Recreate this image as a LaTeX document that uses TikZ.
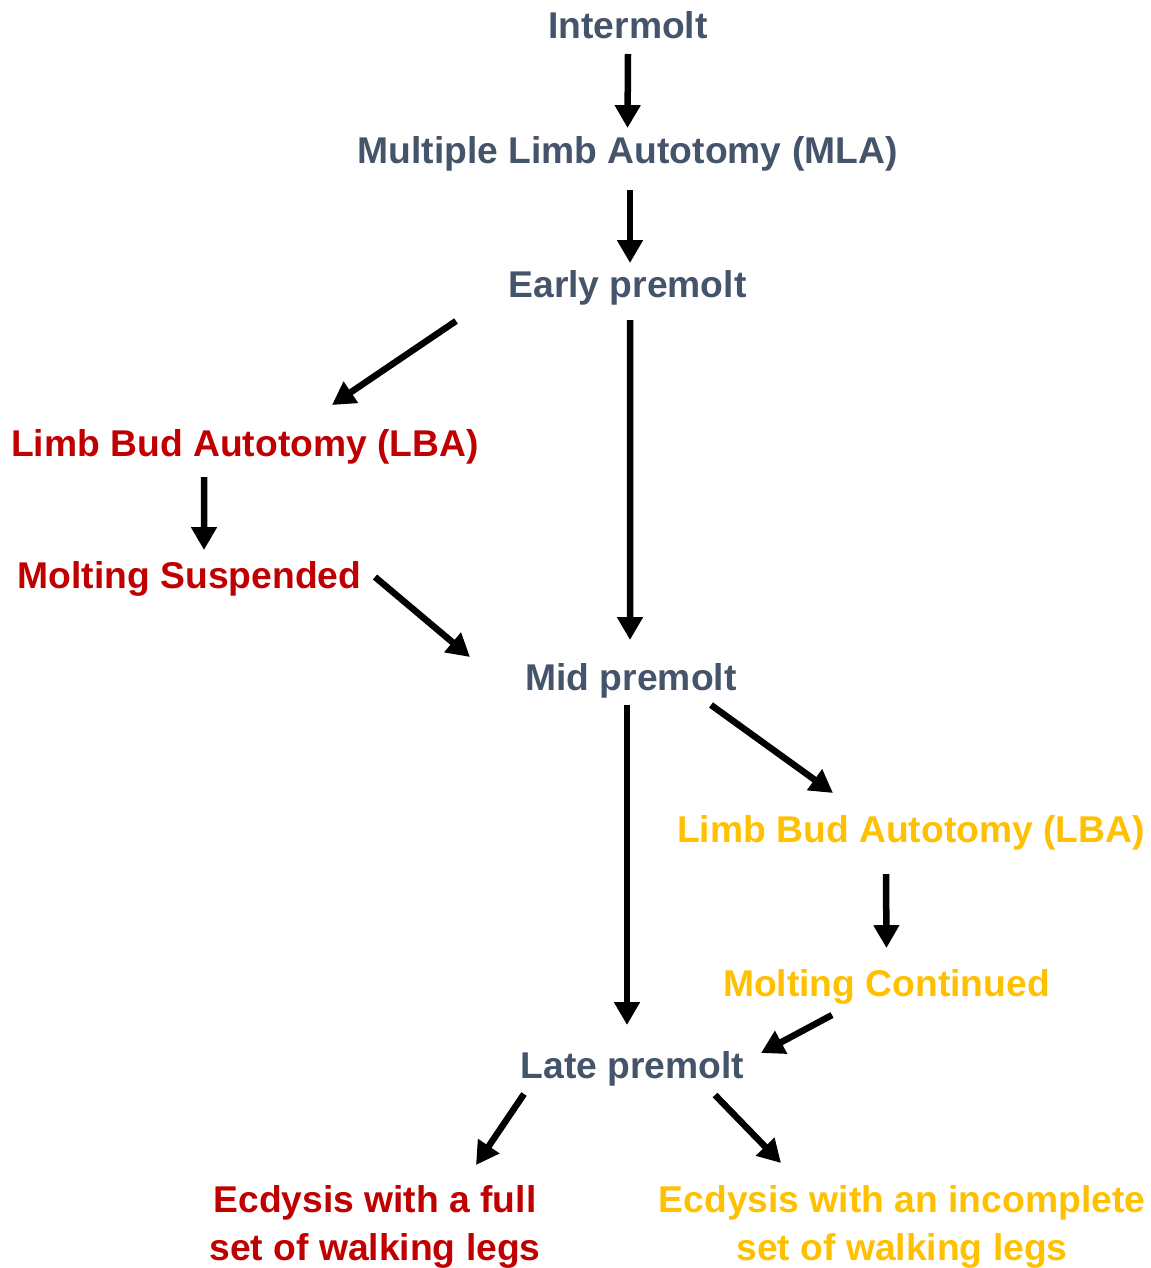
\documentclass[tikz,border=0pt]{standalone}
\usepackage{fontspec}
\setmainfont{Liberation Sans}
\usetikzlibrary{arrows.meta}
\definecolor{slate}{HTML}{44546A}
\definecolor{redtext}{HTML}{C00000}
\definecolor{goldtext}{HTML}{FFC000}

\begin{document}
\begin{tikzpicture}[x=0.02cm,y=-0.02cm,
    lbl/.style={inner sep=0pt,anchor=base,font=\fontsize{21.2}{27.3}\selectfont\bfseries},
    arr/.style={-{Triangle[length=13pt,width=14pt]},line width=3.7pt}]
  \useasboundingbox (0,0) rectangle (1151,1268);
  % stages
  \node[lbl,slate] (inter) at (628,38) {Intermolt};
  \node[lbl,slate] (mla) at (627.5,163) {Multiple Limb Autotomy (MLA)};
  \node[lbl,slate] (early) at (627.5,297) {Early premolt};
  \node[lbl,redtext] (lbar) at (245,456) {Limb Bud Autotomy (LBA)};
  \node[lbl,redtext] (susp) at (189.5,588) {Molting Suspended};
  \node[lbl,slate] (mid) at (631,690) {Mid premolt};
  \node[lbl,goldtext] (lbag) at (911,842) {Limb Bud Autotomy (LBA)};
  \node[lbl,goldtext] (cont) at (886.5,996) {Molting Continued};
  \node[lbl,slate] (late) at (632.5,1078) {Late premolt};
  \node[lbl,redtext,align=center,anchor=north] (full) at (375,1185)
    {Ecdysis with a full\\set of walking legs};
  \node[lbl,goldtext,align=center,anchor=north] (inc) at (902,1185)
    {Ecdysis with an incomplete\\set of walking legs};
  % arrows
  \draw[arr] ([shift={(0,16)}]inter.base) -- ([shift={(0,-35)}]mla.base);
  \draw[arr] ([shift={(2.5,27)}]mla.base) -- ([shift={(2.5,-34)}]early.base);
  \draw[arr] ([shift={(-171.5,24)}]early.base) -- ([shift={(87,-51)}]lbar.base);
  \draw[arr] ([shift={(2.5,23)}]early.base) -- ([shift={(-1,-50)}]mid.base);
  \draw[arr] ([shift={(-41,21)}]lbar.base) -- ([shift={(14.5,-38)}]susp.base);
  \draw[arr] ([shift={(185.5,-11)}]susp.base) -- ([shift={(-161,-33)}]mid.base);
  \draw[arr] ([shift={(80,15)}]mid.base) -- ([shift={(-78,-49)}]lbag.base);
  \draw[arr] ([shift={(-4,15)}]mid.base) -- ([shift={(-5.5,-53)}]late.base);
  \draw[arr] ([shift={(-25,32)}]lbag.base) -- ([shift={(0,-48)}]cont.base);
  \draw[arr] ([shift={(-54.5,19)}]cont.base) -- ([shift={(128.5,-25)}]late.base);
  \draw[arr] ([shift={(-108.5,16)}]late.base) -- ([shift={(101,-20)}]full.north);
  \draw[arr] ([shift={(82.5,17)}]late.base) -- ([shift={(-121,-22)}]inc.north);
\end{tikzpicture}
\end{document}
